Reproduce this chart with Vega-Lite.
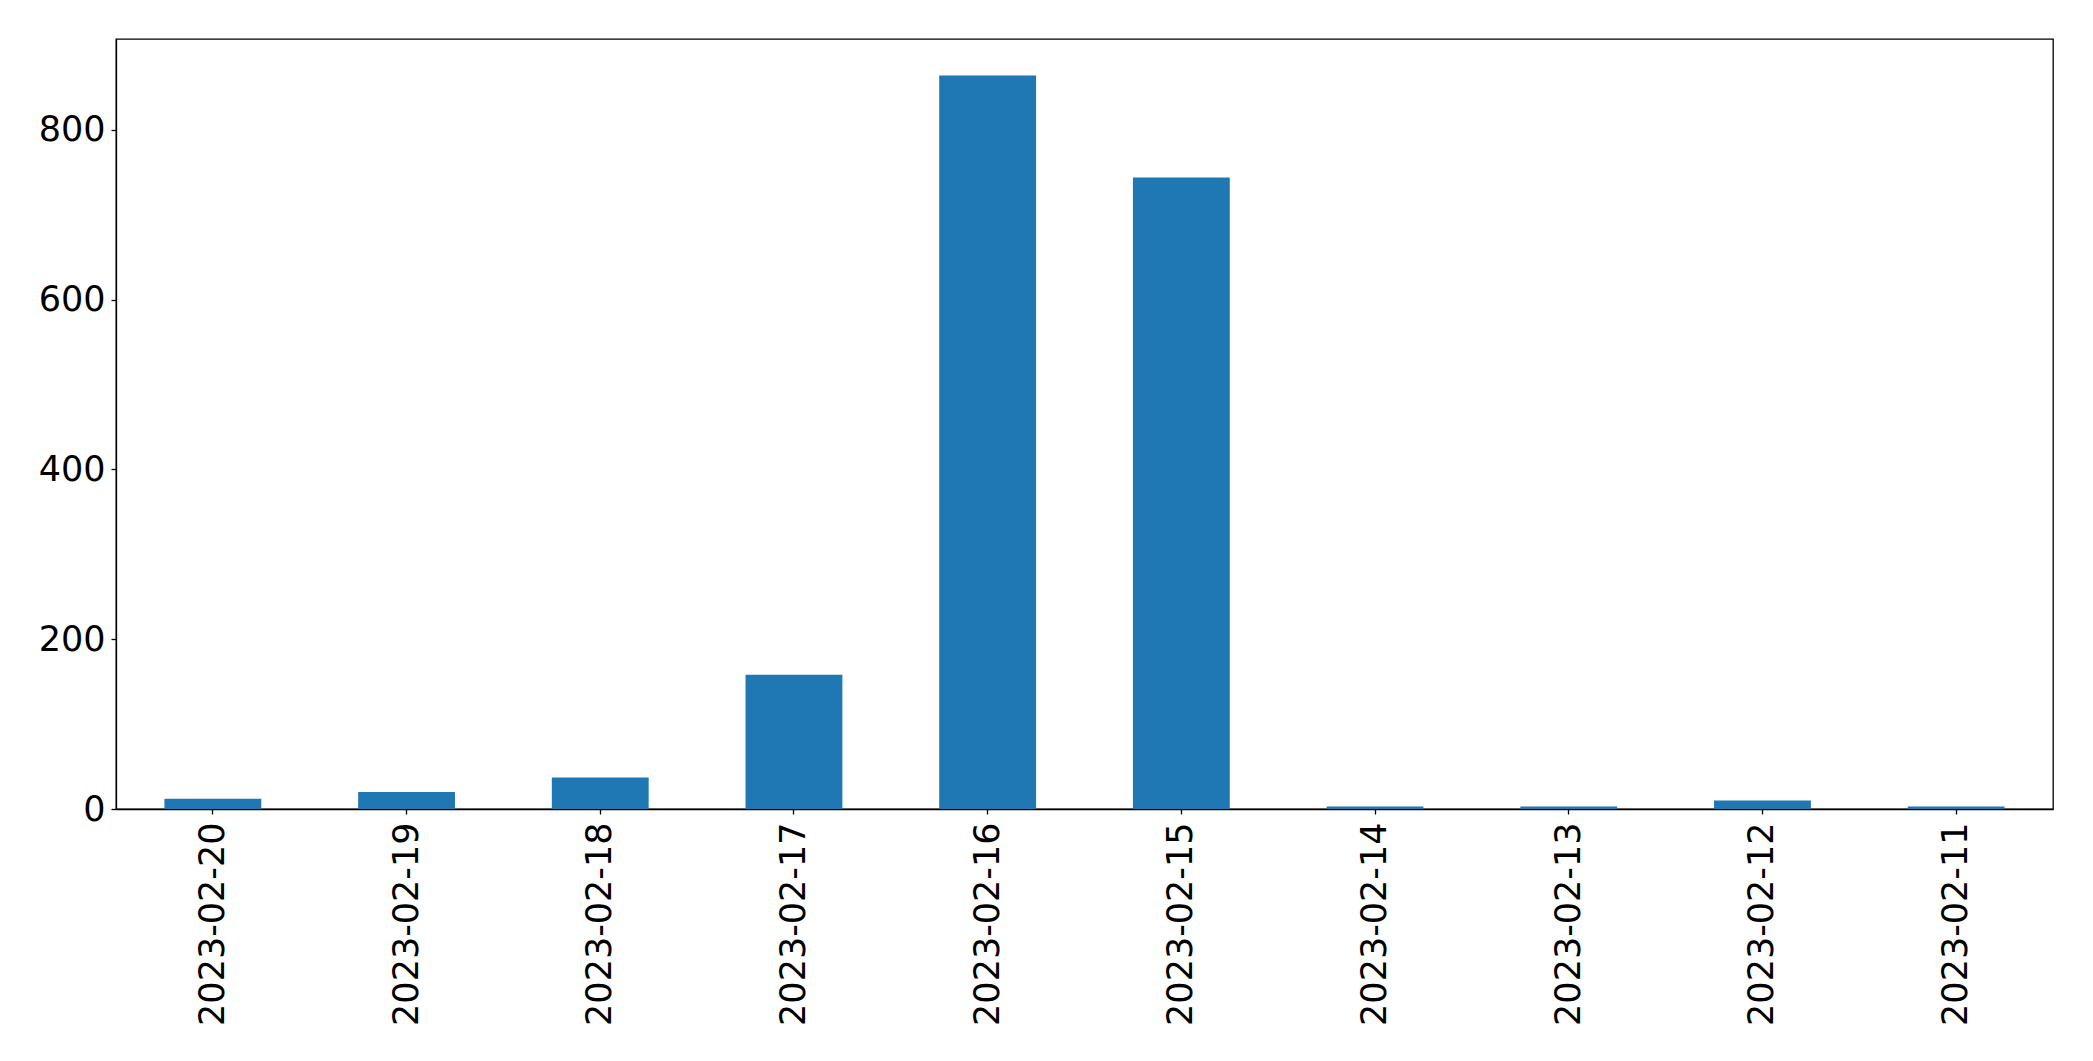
{
  "$schema": "https://vega.github.io/schema/vega-lite/v6.json",
  "width": 1937,
  "height": 770,
  "autosize": {"type": "none"},
  "padding": {"left": 116, "top": 39, "right": 40, "bottom": 252},
  "background": "white",
  "config": {
    "view": {"stroke": "black", "strokeWidth": 1.3},
    "axis": {
      "labelFont": "DejaVu Sans",
      "labelFontSize": 35,
      "labelColor": "black",
      "labelLimit": 0,
      "domainColor": "black",
      "tickColor": "black",
      "tickSize": 5,
      "tickWidth": 1.3,
      "domainWidth": 1.3,
      "grid": false,
      "title": null
    }
  },
  "data": {
    "values": [
      {"date": "2023-02-20", "count": 12},
      {"date": "2023-02-19", "count": 20},
      {"date": "2023-02-18", "count": 37},
      {"date": "2023-02-17", "count": 158},
      {"date": "2023-02-16", "count": 864},
      {"date": "2023-02-15", "count": 744},
      {"date": "2023-02-14", "count": 3},
      {"date": "2023-02-13", "count": 3},
      {"date": "2023-02-12", "count": 10},
      {"date": "2023-02-11", "count": 3}
    ]
  },
  "mark": {"type": "bar", "color": "#1f77b4"},
  "encoding": {
    "x": {
      "field": "date",
      "type": "nominal",
      "sort": null,
      "scale": {"paddingInner": 0.5, "paddingOuter": 0.25},
      "axis": {"labelAngle": -90, "labelAlign": "right", "labelBaseline": "middle", "labelPadding": 8}
    },
    "y": {
      "field": "count",
      "type": "quantitative",
      "scale": {"domain": [0, 907], "nice": false},
      "axis": {"values": [0, 200, 400, 600, 800], "labelPadding": 6}
    }
  }
}
